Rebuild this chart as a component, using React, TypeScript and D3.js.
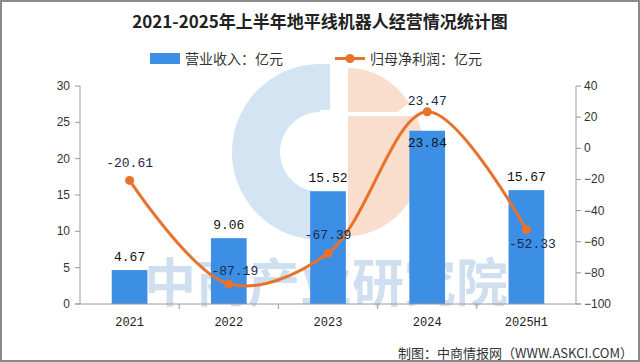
import { useEffect, useRef } from "react";
import * as d3 from "d3";

const years = ["2021", "2022", "2023", "2024", "2025H1"];
const revenue = [4.67, 9.06, 15.52, 23.84, 15.67];
const netProfit = [-20.61, -87.19, -67.39, 23.47, -52.33];
const leftTicks = [0, 5, 10, 15, 20, 25, 30];
const rightTicks = [-100, -80, -60, -40, -20, 0, 20, 40];

// label nudges so the numbers sit where the original put them
const barLabelDy = [-9, -9, -9, 16, -9];
const lineLabelDy = [-13, -9, -14, -7, 18];
const lineLabelDx = [0, 6, 0, 0, 6];

const W = 640;
const H = 362;
const plot = { left: 80, right: 576, top: 86, bottom: 304 };

const BAR = "#3D8FE6";
const LINE = "#E8722C";
const mono = "'Liberation Mono', 'DejaVu Sans Mono', monospace";
const cjk = "'Noto Sans CJK SC', sans-serif";

const App = () => {
  const svgRef = useRef<SVGSVGElement>(null);

  useEffect(() => {
    const svg = d3.select(svgRef.current);
    svg.selectAll("*").remove();

    svg
      .append("rect")
      .attr("width", W)
      .attr("height", H)
      .attr("fill", "#fff");

    const x = d3
      .scaleBand()
      .domain(years)
      .range([plot.left, plot.right])
      .paddingInner(0.64)
      .paddingOuter(0.32);
    const step = x.step();
    const yL = d3.scaleLinear().domain([0, 30]).range([plot.bottom, plot.top]);
    const yR = d3.scaleLinear().domain([-100, 40]).range([plot.bottom, plot.top]);

    const defs = svg.append("defs");
    defs
      .append("clipPath")
      .attr("id", "topclip")
      .append("rect")
      .attr("x", 0)
      .attr("y", -92)
      .attr("width", 100)
      .attr("height", 52);
    defs
      .append("clipPath")
      .attr("id", "botclip")
      .append("rect")
      .attr("x", 0)
      .attr("y", -36)
      .attr("width", 100)
      .attr("height", 130);

    // watermark logo
    const logo = svg.append("g").attr("transform", "translate(320,152)");
    logo
      .append("path")
      .attr(
        "d",
        d3.arc()({ innerRadius: 40, outerRadius: 88, startAngle: Math.PI * 0.97, endAngle: Math.PI * 2 }) as string
      )
      .attr("fill", "#D5E4F2");
    logo
      .append("rect")
      .attr("x", -4)
      .attr("y", -88)
      .attr("width", 14)
      .attr("height", 46)
      .attr("fill", "#D5E4F2");
    logo
      .append("path")
      .attr(
        "d",
        d3.arc()({ innerRadius: 0, outerRadius: 84, startAngle: 0, endAngle: Math.PI * 0.3 }) as string
      )
      .attr("transform", "translate(28,0) scale(0.9,1)")
      .attr("fill", "#F9DECE")
      .attr("clip-path", "url(#topclip)");
    logo
      .append("path")
      .attr(
        "d",
        d3.arc()({ innerRadius: 0, outerRadius: 84, startAngle: 0, endAngle: Math.PI }) as string
      )
      .attr("transform", "translate(28,0) scale(0.9,1)")
      .attr("fill", "#F9DECE")
      .attr("clip-path", "url(#botclip)");

    svg
      .append("text")
      .attr("x", 326)
      .attr("y", 302)
      .attr("text-anchor", "middle")
      .style("font-family", cjk)
      .style("font-weight", 700)
      .style("font-size", "52px")
      .attr("fill", "#CFDFF0")
      .text("中商产业研究院");

    // bars
    svg
      .selectAll(".bar")
      .data(revenue)
      .enter()
      .append("rect")
      .attr("class", "bar")
      .attr("x", (d, i) => x(years[i])!)
      .attr("width", x.bandwidth())
      .attr("y", (d) => yL(d))
      .attr("height", (d) => yL(0) - yL(d))
      .attr("fill", BAR);

    // axes
    const axisColor = "#9a9a9a";
    svg
      .append("line")
      .attr("x1", plot.left)
      .attr("x2", plot.left)
      .attr("y1", plot.top)
      .attr("y2", plot.bottom)
      .attr("stroke", axisColor);
    svg
      .append("line")
      .attr("x1", plot.right)
      .attr("x2", plot.right)
      .attr("y1", plot.top)
      .attr("y2", plot.bottom)
      .attr("stroke", axisColor);
    svg
      .append("line")
      .attr("x1", plot.left - 5)
      .attr("x2", plot.right + 5)
      .attr("y1", plot.bottom)
      .attr("y2", plot.bottom)
      .attr("stroke", axisColor);

    const lt = svg.selectAll(".lt").data(leftTicks).enter().append("g").attr("class", "lt");
    lt.append("line")
      .attr("x1", plot.left - 5)
      .attr("x2", plot.left)
      .attr("y1", (d) => yL(d))
      .attr("y2", (d) => yL(d))
      .attr("stroke", axisColor);
    lt.append("text")
      .attr("x", plot.left - 10)
      .attr("y", (d) => yL(d) + 4)
      .attr("text-anchor", "end")
      .style("font-family", "'Liberation Sans', Arial, sans-serif")
      .style("font-size", "12px")
      .attr("fill", "#333")
      .text((d) => d3.format("d")(d));

    const rt = svg.selectAll(".rt").data(rightTicks).enter().append("g").attr("class", "rt");
    rt.append("line")
      .attr("x1", plot.right)
      .attr("x2", plot.right + 5)
      .attr("y1", (d) => yR(d))
      .attr("y2", (d) => yR(d))
      .attr("stroke", axisColor);
    rt.append("text")
      .attr("x", plot.right + 8)
      .attr("y", (d) => yR(d) + 4)
      .attr("text-anchor", "start")
      .style("font-family", "'Liberation Sans', Arial, sans-serif")
      .style("font-size", "12px")
      .attr("fill", "#333")
      .text((d) => d3.format("d")(d));

    svg
      .selectAll(".xt")
      .data(years.slice(1))
      .enter()
      .append("line")
      .attr("x1", (d) => x(d)! - (step - x.bandwidth()) / 2)
      .attr("x2", (d) => x(d)! - (step - x.bandwidth()) / 2)
      .attr("y1", plot.bottom)
      .attr("y2", plot.bottom + 5)
      .attr("stroke", axisColor);
    svg
      .selectAll(".xl")
      .data(years)
      .enter()
      .append("text")
      .attr("x", (d) => x(d)! + x.bandwidth() / 2)
      .attr("y", plot.bottom + 22)
      .attr("text-anchor", "middle")
      .style("font-family", mono)
      .style("font-size", "12px")
      .attr("fill", "#222")
      .text((d) => d);

    // bar labels
    svg
      .selectAll(".bl")
      .data(revenue)
      .enter()
      .append("text")
      .attr("x", (d, i) => x(years[i])! + x.bandwidth() / 2)
      .attr("y", (d, i) => yL(d) + barLabelDy[i])
      .attr("text-anchor", "middle")
      .style("font-family", mono)
      .style("font-size", "13px")
      .attr("fill", "#111")
      .text((d) => d.toFixed(2));

    // line
    const cx = (i: number) => x(years[i])! + x.bandwidth() / 2;
    const line = d3
      .line<number>()
      .x((d, i) => cx(i))
      .y((d) => yR(d))
      .curve(d3.curveCatmullRom.alpha(0.5));
    svg
      .append("path")
      .datum(netProfit)
      .attr("d", line)
      .attr("fill", "none")
      .attr("stroke", LINE)
      .attr("stroke-width", 3);
    svg
      .selectAll(".pt")
      .data(netProfit)
      .enter()
      .append("circle")
      .attr("cx", (d, i) => cx(i))
      .attr("cy", (d) => yR(d))
      .attr("r", 4.5)
      .attr("fill", LINE);
    svg
      .selectAll(".pl")
      .data(netProfit)
      .enter()
      .append("text")
      .attr("x", (d, i) => cx(i) + lineLabelDx[i])
      .attr("y", (d, i) => yR(d) + lineLabelDy[i])
      .attr("text-anchor", "middle")
      .style("font-family", mono)
      .style("font-size", "13px")
      .attr("fill", "#1C2A48")
      .text((d) => d.toFixed(2));

    // title
    svg
      .append("text")
      .attr("x", 320)
      .attr("y", 28)
      .attr("text-anchor", "middle")
      .style("font-family", cjk)
      .style("font-weight", 700)
      .style("font-size", "17px")
      .attr("fill", "#222")
      .text("2021-2025年上半年地平线机器人经营情况统计图");

    // legend
    const lg = svg.append("g").style("font-family", cjk).style("font-size", "14px");
    lg.append("rect").attr("x", 150).attr("y", 53).attr("width", 30).attr("height", 11).attr("fill", BAR);
    lg.append("text").attr("x", 185).attr("y", 64).attr("fill", "#333").text("营业收入：亿元");
    lg.append("line")
      .attr("x1", 335)
      .attr("x2", 365)
      .attr("y1", 58.5)
      .attr("y2", 58.5)
      .attr("stroke", LINE)
      .attr("stroke-width", 3);
    lg.append("circle").attr("cx", 350).attr("cy", 58.5).attr("r", 4.5).attr("fill", LINE);
    lg.append("text").attr("x", 370).attr("y", 64).attr("fill", "#333").text("归母净利润：亿元");

    // source
    svg
      .append("text")
      .attr("x", 633)
      .attr("y", 358)
      .attr("text-anchor", "end")
      .style("font-family", cjk)
      .style("font-size", "13px")
      .attr("fill", "#333")
      .text("制图：中商情报网（WWW.ASKCI.COM）");

    // frame
    svg
      .append("rect")
      .attr("x", 1)
      .attr("y", 1)
      .attr("width", W - 2)
      .attr("height", H - 2)
      .attr("fill", "none")
      .attr("stroke", "#8a8a8a")
      .attr("stroke-width", 2);
  }, []);

  return (
    <svg
      ref={svgRef}
      width={W}
      height={H}
      style={{ position: "absolute", left: 0, top: 0 }}
    />
  );
};

export default App;
